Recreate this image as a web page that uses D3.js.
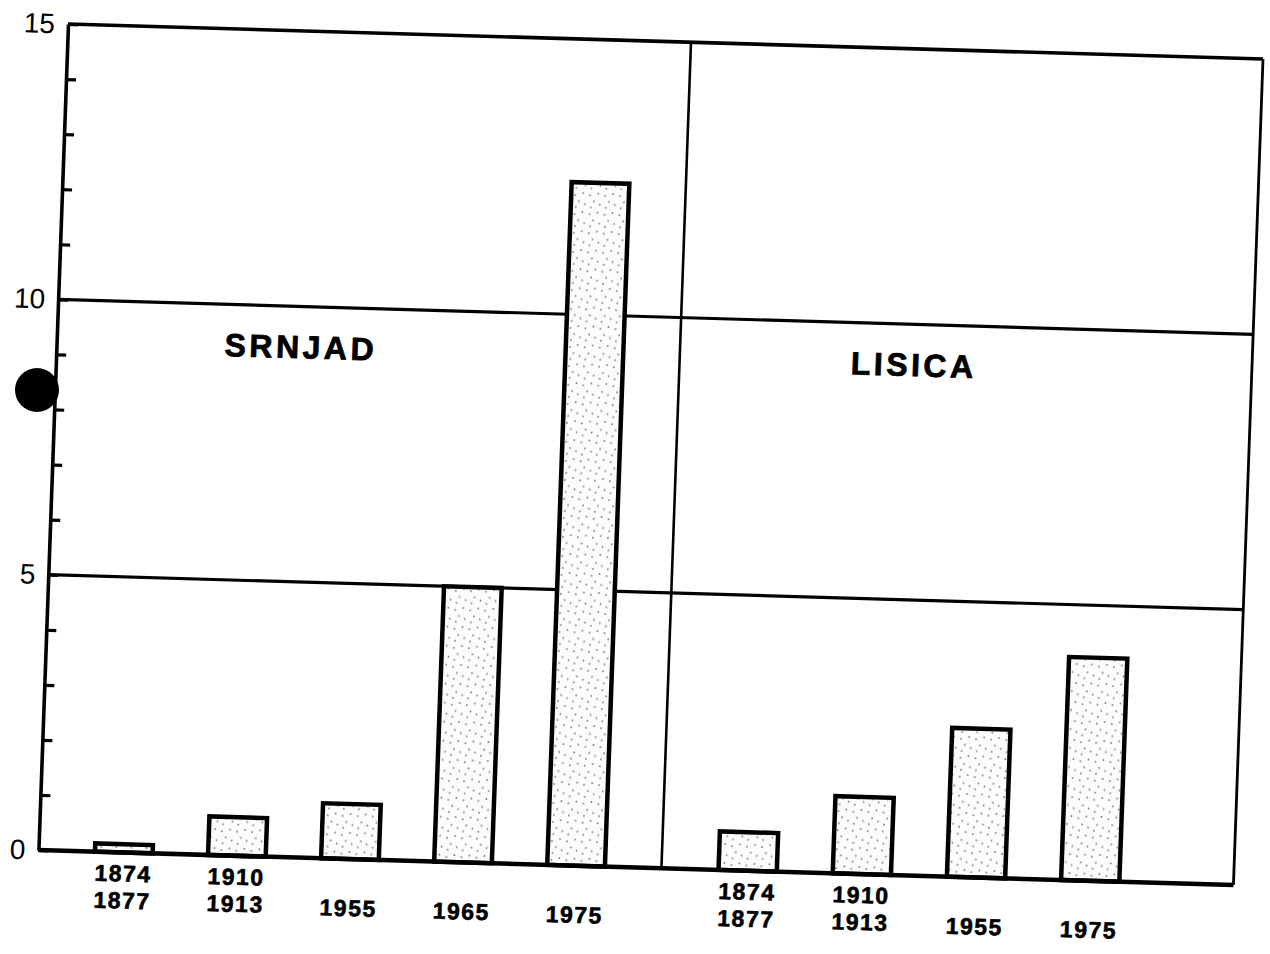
<!DOCTYPE html>
<html><head><meta charset="utf-8">
<script src="https://cdn.jsdelivr.net/npm/d3@7"></script>
<style>html,body{margin:0;padding:0;background:#fff;} svg{display:block;}</style>
</head><body>
<svg id="chart" width="1270" height="954"></svg>
<script>
// ---- data ----
const yTicks = [0,1,2,3,4,5,6,7,8,9,10,11,12,13,14,15];
const yLabels = [0,5,10,15];
const srnjadCats = ["1874/1877","1910/1913","1955","1965","1975"];
const srnjadValues = [0.15, 0.7, 1.0, 5.0, 12.4];
const lisicaCats = ["1874/1877","1910/1913","1955","1975"];
const lisicaValues = [0.7, 1.4, 2.7, 4.05];
const panelTitles = ["SRNJAD","LISICA"];
const titleLevel = 9.27;

// ---- layout ----
const W = 1195, H = 826, divider = 623;
const svg = d3.select("#chart");
const defs = svg.append("defs");
const pat = defs.append("pattern").attr("id","stip").attr("patternUnits","userSpaceOnUse")
  .attr("width",15).attr("height",19);
pat.append("rect").attr("width",15).attr("height",19).attr("fill","#fcfcfc");
[[2,3],[10,1],[6,9],[12,12],[3,15]].forEach(([a,b])=>
  pat.append("rect").attr("x",a).attr("y",b).attr("width",1.4).attr("height",1.8).attr("fill","#777"));

const g = svg.append("g").attr("transform","matrix(1,0.0293,-0.0358,1,68,24)");
const y = d3.scaleLinear().domain([0,15]).range([H,0]);
const xL = d3.scaleBand().domain(srnjadCats).range([0,divider]).paddingInner(0.49).paddingOuter(0.5);
const xR = d3.scaleBand().domain(lisicaCats).range([divider, divider+515]).paddingInner(0.49).paddingOuter(0.5);

// grid + frame
[5,10,15].forEach(v=>{
  g.append("line").attr("x1",0).attr("x2",W).attr("y1",y(v)).attr("y2",y(v))
    .attr("stroke","#000").attr("stroke-width", v===15?3.6:3.2);
});
g.append("line").attr("x1",W).attr("x2",W).attr("y1",y(15)).attr("y2",y(0)).attr("stroke","#000").attr("stroke-width",2.8);
g.append("line").attr("x1",divider).attr("x2",divider).attr("y1",y(15)).attr("y2",y(0)).attr("stroke","#000").attr("stroke-width",2.6);

// bars
function drawBars(cats, vals, x){
  g.selectAll(null).data(cats.map((c,i)=>({c, v: vals[i]}))).enter().append("rect")
    .attr("x", d=>x(d.c)).attr("width", x.bandwidth())
    .attr("y", d=>y(d.v)).attr("height", d=>y(0)-y(d.v))
    .attr("fill","url(#stip)").attr("stroke","#000").attr("stroke-width",4.5);
  const lab = g.selectAll(null).data(cats).enter().append("text")
    .attr("text-anchor","middle")
    .attr("font-family","'Liberation Sans', Arial, sans-serif").attr("font-weight","bold")
    .attr("font-size",23).attr("letter-spacing","1.5px")
    .attr("stroke","#000").attr("stroke-width",0.6);
  lab.each(function(c){
    const parts = c.split("/");
    const t = d3.select(this);
    const cx = x(c) + x.bandwidth()/2;
    if(parts.length===2){
      t.append("tspan").attr("x",cx).attr("y",y(0)+29).text(parts[0]);
      t.append("tspan").attr("x",cx).attr("y",y(0)+56).text(parts[1]);
    } else {
      t.append("tspan").attr("x",cx).attr("y",y(0)+57).text(parts[0]);
    }
  });
}
drawBars(srnjadCats, srnjadValues, xL);
drawBars(lisicaCats, lisicaValues, xR);

// bottom axis line
g.append("line").attr("x1",0).attr("x2",W).attr("y1",y(0)).attr("y2",y(0)).attr("stroke","#000").attr("stroke-width",4.5);

// left axis
const ax = g.append("g").call(d3.axisLeft(y).tickValues(yTicks).tickSize(-10).tickSizeOuter(0).tickPadding(13)
  .tickFormat(d=> yLabels.includes(d) ? d : ""));
ax.select(".domain").attr("stroke","#000").attr("stroke-width",3.6);
ax.selectAll(".tick line").attr("stroke","#000").attr("stroke-width",3.2);
ax.selectAll(".tick text").attr("fill","#000").attr("font-size",28)
  .attr("font-family","'Liberation Sans', Arial, sans-serif");

// panel titles
const titlePos = [xL(srnjadCats[1]) + 0.66*xL.step(), xR(lisicaCats[1]) + 0.55*xR.step()];
panelTitles.forEach((t,i)=>{
  g.append("text").attr("x", titlePos[i]).attr("y", y(titleLevel)).attr("dy","0.36em")
    .attr("text-anchor","middle").attr("font-family","'Liberation Sans', Arial, sans-serif")
    .attr("font-weight","bold").attr("font-size",32).attr("letter-spacing","3.5px")
    .attr("stroke","#000").attr("stroke-width",0.8).text(t);
});

// punch hole artifact
svg.append("circle").attr("cx",37).attr("cy",390).attr("r",22).attr("fill","#000");
</script>
</body></html>
